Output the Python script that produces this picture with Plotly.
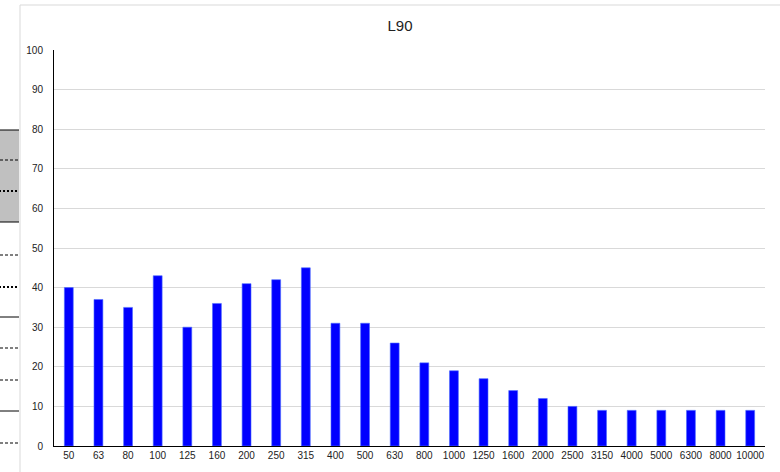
import plotly.graph_objects as go

# One-third octave band centre frequencies (Hz) and L90 levels
bands = ["50", "63", "80", "100", "125", "160", "200", "250", "315", "400",
         "500", "630", "800", "1000", "1250", "1600", "2000", "2500", "3150",
         "4000", "5000", "6300", "8000", "10000"]
l90 = [40, 37, 35, 43, 30, 36, 41, 42, 45, 31,
       31, 26, 21, 19, 17, 14, 12, 10, 9,
       9, 9, 9, 9, 9]
y_ticks = list(range(0, 101, 10))

W, H = 780, 472
ML, MR, MT, MB = 54, 15, 50, 26
PW, PH = W - ML - MR, H - MT - MB


def px(x):
    return (x - ML) / PW


def py(y):
    return (H - MB - y) / PH


fig = go.Figure(go.Bar(
    x=bands, y=l90,
    marker=dict(color="#0000FF", line=dict(color="#4d6bff", width=0.6)),
    width=0.3,
))

shapes = []
# chart frame
shapes.append(dict(type="rect", xref="paper", yref="paper",
                   x0=px(20), x1=px(800), y0=py(5), y1=py(490),
                   line=dict(color="#d9d9d9", width=1), layer="below"))
# neighbouring sheet cells at the left edge
shapes.append(dict(type="rect", xref="paper", yref="paper",
                   x0=px(-5), x1=px(19), y0=py(130), y1=py(222),
                   fillcolor="#c0c0c0", line=dict(width=0)))
for yy in [130, 222, 317, 411]:
    shapes.append(dict(type="line", xref="paper", yref="paper",
                       x0=px(-5), x1=px(19), y0=py(yy), y1=py(yy),
                       line=dict(color="black", width=1)))
for yy, w in [(160, 1), (191, 2), (255, 1), (287, 2), (348, 1), (380, 1), (443, 1)]:
    shapes.append(dict(type="line", xref="paper", yref="paper",
                       x0=px(-5), x1=px(19), y0=py(yy), y1=py(yy),
                       line=dict(color="black", width=w,
                                 dash="2px,2px" if w == 2 else "3px,2px")))

fig.update_layout(
    width=W, height=H,
    margin=dict(l=ML, r=MR, t=MT, b=MB),
    paper_bgcolor="white", plot_bgcolor="white",
    title=dict(text="L90", x=0.5 * (W + 20) / W, xanchor="center",
               y=1 - 26 / H, yanchor="middle",
               font=dict(family="Liberation Sans", size=15, color="#222")),
    font=dict(family="Liberation Sans", size=10, color="#222"),
    showlegend=False,
    bargap=0.7,
    shapes=shapes,
    xaxis=dict(type="category", showline=True, linecolor="black", linewidth=1,
               showgrid=False, ticks="", tickfont=dict(size=10)),
    yaxis=dict(range=[0, 100], tickvals=y_ticks, showline=True, linecolor="black",
               linewidth=1, gridcolor="#d9d9d9", gridwidth=1, ticks="",
               zeroline=False, tickfont=dict(size=10), ticklabelstandoff=8),
)

fig.write_html("out.html")
